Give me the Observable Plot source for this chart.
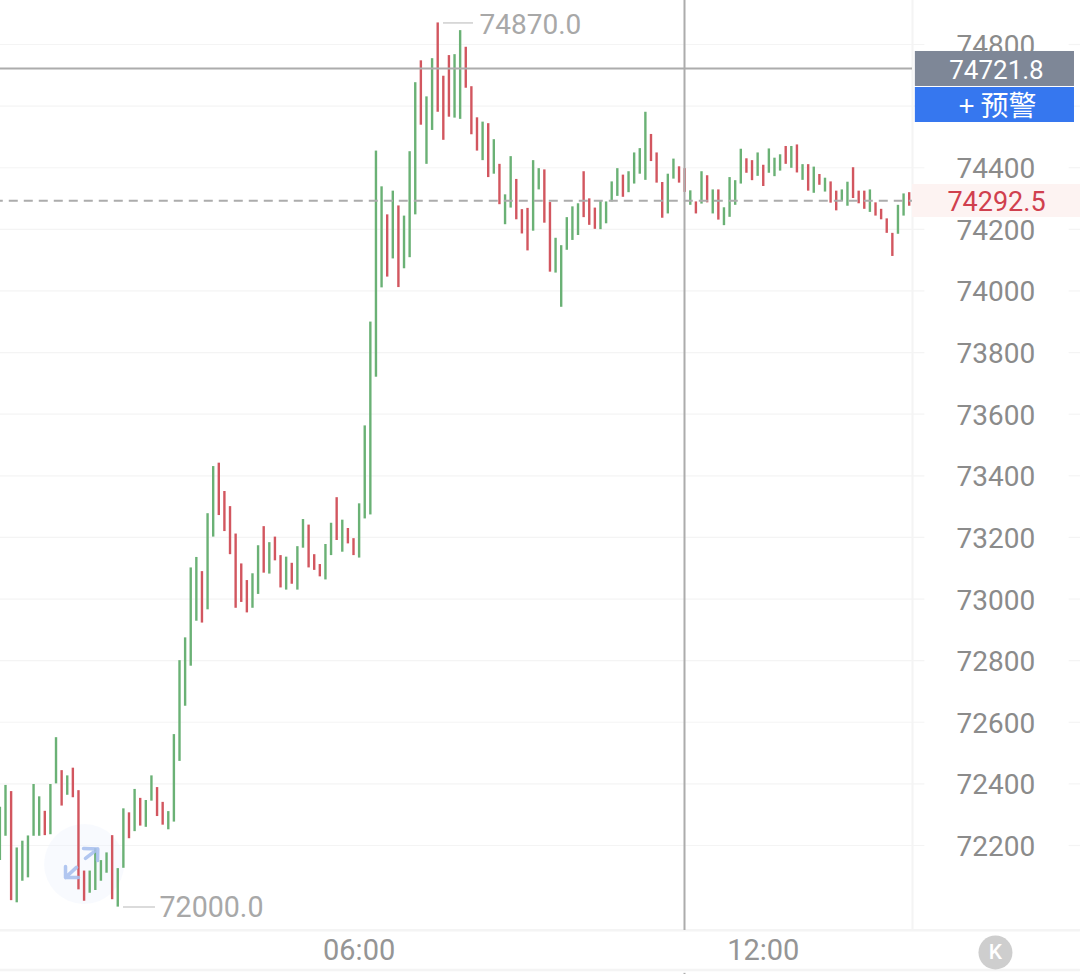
<!DOCTYPE html>
<html>
<head>
<meta charset="utf-8">
<style>html,body{margin:0;padding:0;background:#fff}svg{display:block}</style>
<script src="https://cdn.jsdelivr.net/npm/d3@7"></script>
<script src="https://cdn.jsdelivr.net/npm/@observablehq/plot@0.6"></script>
</head>
<body>
<div id="chart"></div>
<script>
// 5-minute bars, first bar is slot -1; slot 63 = 06:00, slot 135 = 12:00
const highs = [
72324,72395,72375,72192,72214,72231,72398,72358,72311,72398,
72550,72443,72426,72451,72378,72117,72117,72190,72151,72176,
72232,72125,72319,72306,72382,72353,72346,72426,72388,72340,
72310,72560,72800,72874,73101,73135,73089,73277,73430,73441,
73349,73300,73211,73114,73060,73082,73173,73235,73183,73201,
73141,73136,73116,73170,73258,73240,73144,73112,73177,73246,
73329,73256,73229,73196,73309,73562,73899,74454,74338,74247,
74324,74276,74243,74452,74676,74747,74630,74754,74870,74697,
74764,74767,74845,74791,74663,74562,74548,74543,74491,74411,
74312,74436,74362,74264,74268,74423,74397,74393,74287,74171,
74147,74238,74273,74283,74387,74299,74269,74293,74289,74354,
74397,74376,74387,74448,74462,74580,74508,74448,74352,74379,
74428,74403,74397,74325,74289,74387,74374,74328,74328,74270,
74368,74358,74460,74429,74423,74448,74408,74461,74431,74442,
74469,74469,74474,74410,74410,74402,74378,74366,74354,74324,
74328,74353,74400,74324,74324,74328,74286,74265,74234,74187,
74278,74315,74319];
const lows = [
72151,72230,72021,72014,72084,72095,72230,72230,72232,72235,
72400,72328,72363,72355,72056,72019,72045,72054,72084,72110,
72024,72000,72126,72222,72245,72263,72259,72344,72294,72266,
72251,72276,72473,72652,72782,72928,72922,72965,73201,73271,
73219,73144,72970,72989,72955,72970,73015,73084,73081,73124,
73036,73029,73048,73029,73165,73101,73093,73072,73062,73141,
73190,73152,73179,73141,73133,73260,73273,73720,74010,74045,
74104,74011,74072,74108,74247,74538,74411,74521,74580,74489,
74564,74561,74557,74658,74507,74454,74423,74368,74379,74280,
74215,74269,74231,74185,74130,74194,74328,74220,74061,74058,
73947,74132,74164,74180,74238,74213,74200,74199,74218,74289,
74307,74304,74319,74347,74379,74359,74420,74350,74236,74250,
74363,74350,74320,74278,74250,74282,74286,74250,74230,74212,
74239,74278,74347,74382,74358,74372,74339,74382,74371,74389,
74411,74398,74383,74359,74324,74317,74343,74321,74285,74260,
74290,74275,74300,74283,74265,74255,74243,74231,74187,74112,
74184,74243,74275];
const dirs = [
"g","g","r","g","g","g","g","g","r","g",
"g","r","g","r","r","r","g","g","g","g",
"r","g","g","r","g","r","g","g","r","r",
"g","g","g","g","g","g","r","g","g","r",
"r","r","r","r","r","g","g","r","g","r",
"r","g","r","g","g","r","r","r","g","g",
"r","g","r","r","g","g","g","g","g","r",
"g","r","g","g","g","r","g","g","r","r",
"r","g","g","r","r","r","g","r","g","r",
"g","g","r","r","r","g","g","r","r","g",
"g","g","g","g","r","r","r","g","g","g",
"g","r","g","g","g","g","r","r","r","g",
"g","r","r","g","r","g","r","g","r","g",
"g","g","g","r","r","g","r","g","g","g",
"r","g","r","g","r","g","r","g","r","r",
"g","g","r","r","r","g","r","r","r","r",
"g","g","r"];
const priceTicks = [72200,72400,72600,72800,73000,73200,73400,73600,73800,74000,74200,74400,74800];
const gridLevels = [72200,72400,72600,72800,73000,73200,73400,73600,73800,74000,74200,74400,74600,74800];
const lastPrice = 74292.5, crossPrice = 74721.8, maxPrice = 74870, minPrice = 72000;
const timeTicks = ["06:00","12:00"];

const slot = i => new Date(Date.UTC(2024,0,1,6,0) + (i-63)*300000);
const bars = highs.map((h,k)=>({t:slot(k-1),high:h,low:lows[k],dir:dirs[k]}));
const GREEN="#6ab175", RED="#d2565f", LINE="#acacac", GRID="#f4f4f4";
const TOP=74942.8, BOTTOM=71924.1;
const crossSlot=120.97, sepSlot=161.59, farSlot=191.52, labelSlot=176.55;
const arrowX=[13.9,16.44,16.4,null,14.25,16.44,null,10.69,10.69,13.0,null,12.65,10.69];
const arrowY=[72190,72189,72151,null,72158,72189,null,72132,72096,72096,null,72129,72096];
const arrows=arrowX.map((x,k)=>({x:x==null?null:slot(x),y:arrowY[k]}));
const hFont="Roboto, sans-serif";

const chart = Plot.plot({
  width:1080,height:974,
  marginTop:0,marginLeft:0,marginRight:168,marginBottom:44,
  style:{fontFamily:hFont,background:"#fff"},
  x:{type:"utc",domain:[slot(-0.891),slot(sepSlot)],label:null},
  y:{type:"linear",domain:[BOTTOM,TOP],label:null},
  marks:[
    Plot.ruleY(gridLevels,{x1:slot(-2),x2:slot(163.8),stroke:GRID,strokeWidth:1.2}),
    Plot.ruleY(gridLevels,{x1:slot(189.5),x2:slot(farSlot),stroke:GRID,strokeWidth:1.2}),
    Plot.ruleY([BOTTOM+1,71796],{x1:slot(-2),x2:slot(farSlot),stroke:GRID,strokeWidth:2.5}),
    Plot.ruleX([slot(sepSlot)],{y1:BOTTOM,y2:TOP,stroke:GRID,strokeWidth:2}),
    Plot.axisY({anchor:"right",ticks:priceTicks,tickSize:0,tickPadding:44,dy:1.5,fontSize:28,color:"#8b8b8b",label:null,tickFormat:d=>String(d)}),
    Plot.axisX({anchor:"bottom",ticks:[slot(63),slot(135)],tickSize:0,tickPadding:9,fontSize:29,color:"#959595",label:null,tickFormat:(d,i)=>timeTicks[i]}),
    Plot.dot([0],{x:()=>slot(14),y:()=>72140,r:40,fill:"#eef3fd",fillOpacity:0.4}),
    Plot.ruleX(bars.filter(d=>d.dir==="g"),{x:"t",y1:"low",y2:"high",stroke:GREEN,strokeWidth:2.4}),
    Plot.ruleX(bars.filter(d=>d.dir==="r"),{x:"t",y1:"low",y2:"high",stroke:RED,strokeWidth:2.4}),
    Plot.line(arrows,{x:"x",y:"y",stroke:"#a9c0ee",strokeWidth:3.5,strokeOpacity:0.9,curve:"linear"}),
    Plot.ruleY([crossPrice],{x1:slot(-2),x2:slot(sepSlot),stroke:LINE,strokeWidth:2}),
    Plot.ruleY([lastPrice],{x1:slot(-2),x2:slot(sepSlot),stroke:LINE,strokeWidth:2,strokeDasharray:"9,6"}),
    Plot.ruleX([slot(crossSlot)],{y1:BOTTOM,y2:TOP,stroke:LINE,strokeWidth:2}),
    Plot.ruleX([slot(crossSlot)],{y1:71785,y2:71780,stroke:LINE,strokeWidth:2}),
    Plot.ruleY([maxPrice],{x1:slot(78.03),x2:slot(83.38),stroke:"#cfcfcf",strokeWidth:1.5}),
    Plot.ruleY([minPrice],{x1:slot(21.02),x2:slot(26.72),stroke:"#cfcfcf",strokeWidth:1.5}),
    Plot.text([maxPrice.toFixed(1)],{x:()=>slot(84.45),y:()=>maxPrice,text:d=>d,textAnchor:"start",fontSize:28,fill:"#a8a8a8",dy:2}),
    Plot.text([minPrice.toFixed(1)],{x:()=>slot(27.44),y:()=>minPrice,text:d=>d,textAnchor:"start",fontSize:28.6,fill:"#a8a8a8",dy:1}),
    Plot.rect([0],{x1:()=>slot(sepSlot),x2:()=>slot(farSlot),y1:()=>74238.4,y2:()=>74345.5,fill:"#fdf3f2"}),
    Plot.rect([0],{x1:()=>slot(162.1),x2:()=>slot(190.45),y1:()=>74663.7,y2:()=>74777.3,fill:"#7e8797"}),
    Plot.rect([0],{x1:()=>slot(162.1),x2:()=>slot(190.45),y1:()=>74546.8,y2:()=>74660.4,fill:"#3677ef"}),
    Plot.text([crossPrice.toFixed(1)],{x:()=>slot(labelSlot),y:()=>74714,text:d=>d,fontSize:26,fill:"#fff"}),
    Plot.text(["+ 预警"],{x:()=>slot(labelSlot+0.2),y:()=>74597,text:d=>d,fontSize:28,fill:"#fff",fontFamily:"'Noto Sans CJK SC', sans-serif"}),
    Plot.text([lastPrice.toFixed(1)],{x:()=>slot(labelSlot),y:()=>lastPrice,text:d=>d,fontSize:27,fill:"#d0404e",dy:2}),
    Plot.dot([0],{x:()=>slot(176.37),y:()=>71853,r:17,fill:"#cecece"}),
    Plot.text(["K"],{x:()=>slot(176.37),y:()=>71853,text:d=>d,fontSize:21,fill:"#fff",fontWeight:500})
  ]
});
document.getElementById("chart").appendChild(chart);
</script>
</body>
</html>
